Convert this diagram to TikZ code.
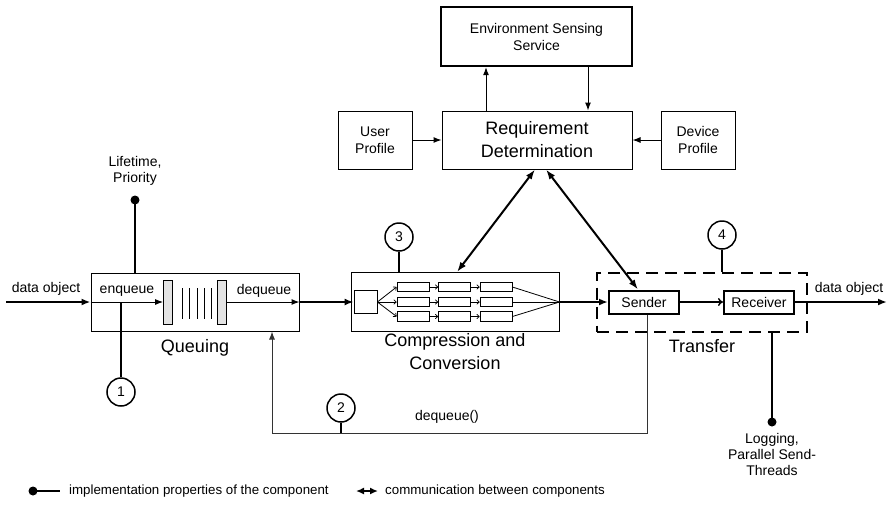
\documentclass[tikz,border=0pt]{standalone}
\usepackage{fontspec}
\setmainfont{Liberation Sans}
\usetikzlibrary{arrows.meta}
\newcommand\myS{\fontsize{14}{17}\selectfont}
\newcommand\myB{\fontsize{18}{23}\selectfont}
\newcommand\myL{\fontsize{13.3}{16}\selectfont}
\begin{document}
\begin{tikzpicture}[x=1pt,y=-1pt,
  box/.style={draw,line width=1pt,inner sep=0pt,align=center},
  tbox/.style={draw,line width=2pt,inner sep=0pt,align=center},
  gbar/.style={draw,line width=0.8pt,fill=gray!22,inner sep=0pt,minimum width=9pt,minimum height=44pt},
  cell/.style={draw,line width=0.8pt,inner sep=0pt,minimum width=32pt,minimum height=9.5pt},
  circ/.style={draw,circle,line width=1.5pt,minimum size=28pt,inner sep=0pt,font=\myS},
  tharr/.style={line width=2pt,-{Latex[length=9pt,width=7pt]}},
  tnarr/.style={line width=1pt,-{Latex[length=8pt,width=6pt]}},
  smarr/.style={line width=0.8pt,-{To[length=3pt,width=5pt]}},
  bidir/.style={line width=2pt,{Latex[length=10pt,width=7pt]}-{Latex[length=10pt,width=7pt]}},
  prop/.style={line width=2pt},
  lbl/.style={font=\myS,inner sep=0pt,align=center}]
\useasboundingbox (0,0) rectangle (888,504);

% top part
\node[box,line width=2.4pt,minimum width=191pt,minimum height=59pt,font=\myS] (ess) at (536.5,36.5) {Environment Sensing\\Service};
\node[box,minimum width=190pt,minimum height=58pt,font=\myB] (rd) at (537,140) {Requirement\\Determination};
\node[box,minimum width=74pt,minimum height=58pt,font=\myS] (up) at (375,140) {User\\Profile};
\node[box,minimum width=74pt,minimum height=58pt,font=\myS] (dp) at (698,140) {Device\\Profile};
\draw[tnarr] ([xshift=-51pt]rd.north) -- ([xshift=-50.5pt]ess.south);
\draw[tnarr] ([xshift=51.5pt]ess.south) -- ([xshift=51pt]rd.north);
\draw[tnarr] (up.east) -- (rd.west);
\draw[tnarr] (dp.west) -- (rd.east);

% queuing
\node[box,minimum width=208pt,minimum height=58pt] (q) at (195,302) {};
\node[gbar] (g1) at (168,302) {};
\node[gbar] (g2) at (222,302) {};
\foreach \x in {182,189,197,204,211} \draw[line width=1pt] (\x,288) -- (\x,319);
\node[lbl] (enq) at (127,291) {enqueue};
\node[lbl] (deq) at (264,291) {dequeue};
\node[lbl,font=\myB] (ql) at (195,348) {Queuing};
\coordinate (in) at (6,302);
\node[lbl] (din) at (46,289) {data object};
\draw[tharr] (in) -- (q.west);
\draw[tnarr] (q.west) -- (g1.west);
\draw[tnarr] (g2.east) -- (q.east);

% compression
\node[box,minimum width=208pt,minimum height=59pt] (c) at (455,302) {};
\node[draw,line width=0.8pt,minimum width=23pt,minimum height=23pt,inner sep=0pt] (sq) at (365.5,302) {};
\foreach \r/\y in {1/287,2/302,3/316.5}{
  \node[cell] (r\r1) at (413,\y) {};
  \node[cell] (r\r2) at (454.5,\y) {};
  \node[cell] (r\r3) at (496,\y) {};
  \draw[smarr] (sq.east) -- (r\r1.west);
  \draw[smarr] (r\r1.east) -- (r\r2.west);
  \draw[smarr] (r\r2.east) -- (r\r3.west);
  \draw[line width=0.8pt] (r\r3.east) -- (c.east);
}
\node[lbl,font=\myB] (cl) at (455,352) {Compression and\\Conversion};
\draw[tharr] (q.east) -- (sq.west);

% transfer
\node[draw,line width=2pt,dash pattern=on 12pt off 7pt,minimum width=210pt,minimum height=59pt,inner sep=0pt] (t) at (702,302) {};
\node[tbox,minimum width=70pt,minimum height=23pt,font=\myS] (snd) at (644,302) {Sender};
\node[tbox,minimum width=70pt,minimum height=23pt,font=\myS] (rcv) at (759,302) {Receiver};
\node[lbl,font=\myB] (tl) at (702,346) {Transfer};
\draw[tharr] (c.east) -- (snd.west);
\draw[line width=1.5pt,-{To[length=5pt,width=8pt]}] (snd.east) -- (rcv.west);
\coordinate (out) at (887,302);
\draw[tharr] (rcv.east) -- (out);
\node[lbl] (dout) at (849,289) {data object};

% requirement communication
\draw[bidir] ([xshift=-2pt]rd.south) -- ([xshift=2pt]c.north);
\draw[bidir] ([xshift=9pt]rd.south) -- ([xshift=-6pt]snd.north);

% properties
\coordinate (lt) at (135,200);
\fill (lt) circle (4.5);
\draw[prop] (lt) -- (lt |- q.north);
\node[lbl,font=\fontsize{14}{16}\selectfont] (ltl) at (135,171) {Lifetime,\\Priority};

\coordinate (lg) at (772,422);
\fill (lg) circle (4.5);
\draw[prop] (lg) -- (lg |- t.south);
\node[lbl,font=\fontsize{14}{16}\selectfont,anchor=north] (lgl) at (772,433) {Logging,\\Parallel Send-\\Threads};

% numbered circles
\coordinate (enqpt) at (121,302);
\node[circ] (n1) at (121,392) {1};
\draw[prop] (n1.north) -- (enqpt);
\node[circ] (n3) at (399,237) {3};
\draw[prop] (n3.south) -- (n3.south |- c.north);
\node[circ] (n4) at (722,235) {4};
\draw[prop] (n4.south) -- (n4.south |- t.north);

% feedback
\coordinate (fb) at (272,433);
\draw[line width=1pt,draw=black!80,-{Latex[length=8pt,width=6pt]}] ([xshift=3pt]snd.south) |- (fb) -- (fb |- q.south);
\node[circ] (n2) at (341,408) {2};
\draw[line width=1.5pt] (n2.south) -- (n2.south |- fb);
\node[lbl] (dqf) at (447,417) {dequeue()};

% legend
\coordinate (l1) at (33,491);
\coordinate (l2) at (60,491);
\fill (l1) circle (4.5);
\draw[prop] (l1) -- (l2);
\node[lbl,font=\myL,anchor=west] (lt1) at (69,491) {implementation properties of the component};
\coordinate (l3) at (356,491);
\coordinate (l4) at (378,491);
\draw[line width=2pt,{Latex[length=8pt,width=7pt]}-{Latex[length=8pt,width=7pt]}] (l3) -- (l4);
\node[lbl,font=\myL,anchor=west] (lt2) at (385,491) {communication between components};
\end{tikzpicture}
\end{document}
